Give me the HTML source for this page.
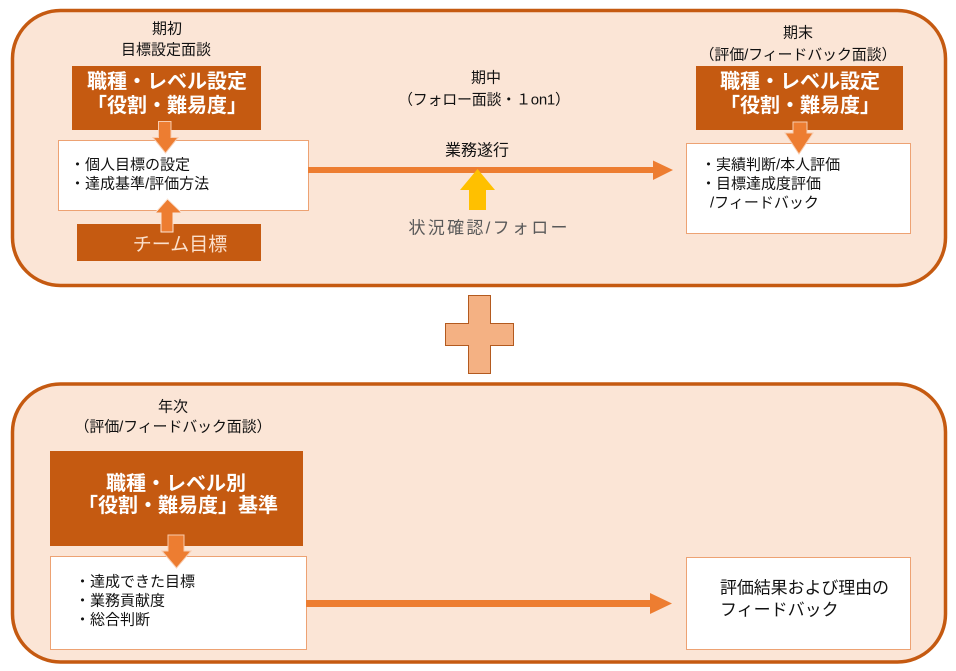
<!DOCTYPE html>
<html><head><meta charset="utf-8"><style>
html,body{margin:0;padding:0;background:#fff;}
svg{display:block;}
text{font-family:"Liberation Sans","Noto Sans CJK JP",sans-serif;dominant-baseline:central;}
</style></head><body>
<svg width="956" height="671" viewBox="0 0 956 671" xmlns="http://www.w3.org/2000/svg">
<!-- Panels -->
<rect x="12.5" y="10.5" width="933" height="275" rx="48" ry="48" fill="#fbe5d6" stroke="#c55a11" stroke-width="3.5"/>
<rect x="12.5" y="384" width="933" height="278" rx="48" ry="48" fill="#fbe5d6" stroke="#c55a11" stroke-width="3.5"/>

<!-- Plus -->
<path d="M468.5 295.5 H490.5 V323.5 H513.5 V345.5 H490.5 V373.5 H468.5 V345.5 H445.5 V323.5 H468.5 Z" fill="#f4b183" stroke="#b35a1f" stroke-width="1"/>

<!-- ===== TOP LEFT ===== -->
<text x="167" y="29" font-size="15" text-anchor="middle" fill="#111">期初</text>
<text x="166" y="50" font-size="15" text-anchor="middle" fill="#111">目標設定面談</text>
<rect x="72" y="66" width="189" height="64" fill="#c55a11"/>
<text x="167" y="82" font-size="20" font-weight="bold" text-anchor="middle" fill="#fff">職種・レベル設定</text>
<text x="167" y="106" font-size="20" font-weight="bold" text-anchor="middle" fill="#fff">「役割・難易度」</text>

<rect x="58.5" y="140.5" width="250" height="70" fill="#fff" stroke="#eda273" stroke-width="1"/>
<text x="70" y="165" font-size="15" fill="#111">・個人目標の設定</text>
<text x="70" y="184" font-size="15" fill="#111">・達成基準/評価方法</text>

<rect x="77" y="224" width="184" height="37" fill="#c55a11"/>
<text x="180" y="245" font-size="19" text-anchor="middle" fill="#fbe0cc">チーム目標</text>

<!-- down arrow 1 -->
<path d="M158.5 121.5 H171 V137.5 H178 L165.5 153 L153 137.5 H158.5 Z" fill="#ed7d31" stroke="#f8cbad" stroke-width="1"/>
<!-- up arrow -->
<path d="M161 232 V213 H155 L167.5 199 L182 213 H173 V232 Z" fill="#ed7d31" stroke="#fbe5d6" stroke-width="1"/>

<!-- ===== MIDDLE ===== -->
<text x="486" y="78" font-size="15" text-anchor="middle" fill="#111">期中</text>
<text x="484" y="100" font-size="15" text-anchor="middle" fill="#111" textLength="172" lengthAdjust="spacing">（フォロー面談・１on1）</text>
<text x="477" y="151" font-size="16" text-anchor="middle" fill="#111">業務遂行</text>
<rect x="308" y="167" width="347" height="6" fill="#ed7d31"/>
<polygon points="653,160.5 673,170 653,180" fill="#ed7d31"/>
<path d="M469 210 V190 H460 L477.5 169 L495 190 H486 V210 Z" fill="#ffc000"/>
<text x="488" y="228" font-size="17" text-anchor="middle" fill="#595959" textLength="159" lengthAdjust="spacing">状況確認/フォロー</text>

<!-- ===== TOP RIGHT ===== -->
<text x="798" y="33" font-size="15" text-anchor="middle" fill="#111">期末</text>
<text x="798" y="55" font-size="15" text-anchor="middle" fill="#111" textLength="197" lengthAdjust="spacing">（評価/フィードバック面談）</text>
<rect x="696" y="66" width="207" height="64" fill="#c55a11"/>
<text x="800" y="82" font-size="20" font-weight="bold" text-anchor="middle" fill="#fff">職種・レベル設定</text>
<text x="800" y="106" font-size="20" font-weight="bold" text-anchor="middle" fill="#fff">「役割・難易度」</text>

<rect x="686.5" y="143.5" width="224" height="90" fill="#fff" stroke="#eda273" stroke-width="1"/>
<text x="701" y="165" font-size="15" fill="#111">・実績判断/本人評価</text>
<text x="701" y="184" font-size="15" fill="#111">・目標達成度評価</text>
<text x="710" y="203" font-size="15" fill="#111">/フィードバック</text>

<path d="M793 122 H807 V133 H813 L799 154 L785 133 H793 Z" fill="#ed7d31" stroke="#f8cbad" stroke-width="1"/>

<!-- ===== BOTTOM ===== -->
<text x="173" y="407" font-size="15" text-anchor="middle" fill="#111">年次</text>
<text x="173" y="427" font-size="15" text-anchor="middle" fill="#111" textLength="197" lengthAdjust="spacing">（評価/フィードバック面談）</text>
<rect x="50" y="451" width="253" height="95" fill="#c55a11"/>
<text x="176" y="484" font-size="20" font-weight="bold" text-anchor="middle" fill="#fff">職種・レベル別</text>
<text x="178" y="506" font-size="20" font-weight="bold" text-anchor="middle" fill="#fff">「役割・難易度」基準</text>

<rect x="50.5" y="556.5" width="256" height="93" fill="#fff" stroke="#eda273" stroke-width="1"/>
<text x="75" y="582" font-size="15" fill="#111">・達成できた目標</text>
<text x="75" y="601" font-size="15" fill="#111">・業務貢献度</text>
<text x="75" y="620" font-size="15" fill="#111">・総合判断</text>

<path d="M168 535 H184 V551 H191 L176.5 568 L162 551 H168 Z" fill="#ed7d31" stroke="#f8cbad" stroke-width="1"/>

<rect x="306" y="600" width="346" height="7" fill="#ed7d31"/>
<polygon points="650,593 672,603.5 650,614" fill="#ed7d31"/>

<rect x="686.5" y="557.5" width="224" height="92" fill="#fff" stroke="#eda273" stroke-width="1"/>
<text x="720" y="588" font-size="17" fill="#111" textLength="169" lengthAdjust="spacing">評価結果および理由の</text>
<text x="720" y="610" font-size="17" fill="#111">フィードバック</text>
</svg>
</body></html>
